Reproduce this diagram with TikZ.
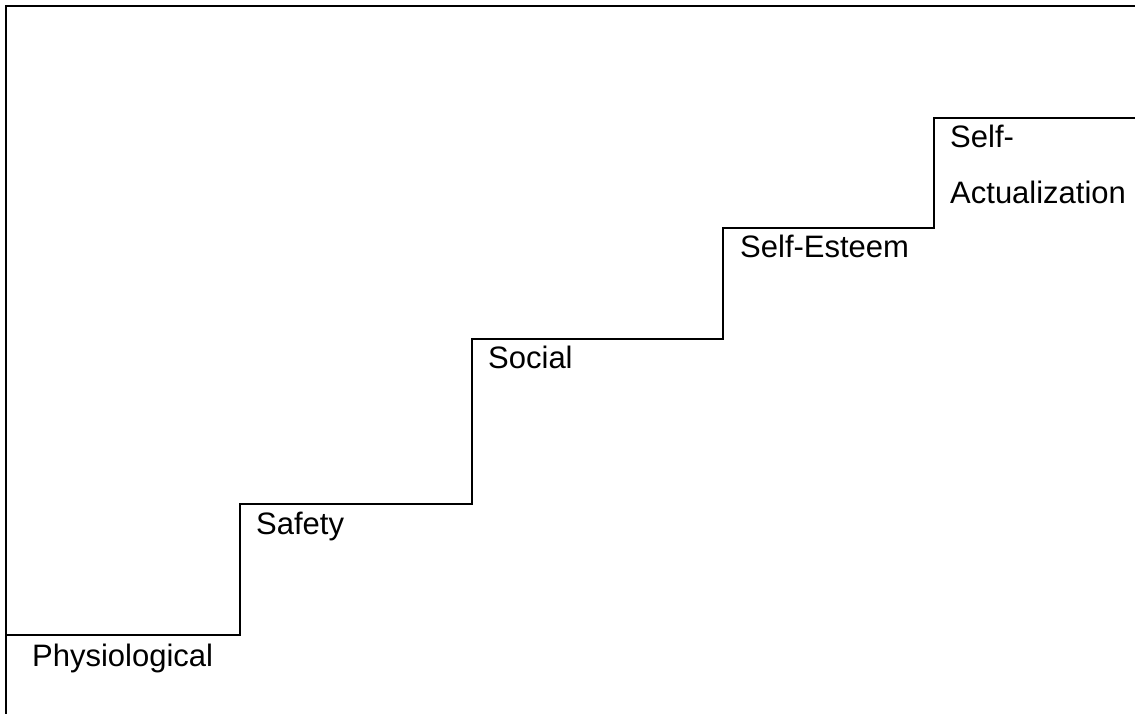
\documentclass[tikz,border=0pt]{standalone}
\usepackage{fontspec}
\setmainfont{Liberation Sans}
\begin{document}
\begin{tikzpicture}[x=1pt,y=-1pt,
  stair/.style={line width=2pt,line cap=rect},
  lab/.style={anchor=base west,inner sep=0pt,font=\fontsize{31}{56}\selectfont,align=left}]
\useasboundingbox (0,0) rectangle (1135,714);
% frame
\coordinate (ftr) at (1135,6);
\coordinate (ftl) at (6,6);
\coordinate (fbl) at (6,714);
\draw[stair] (ftr) -- (ftl) -- (fbl);
% corners of the stairs
\coordinate (s0) at (6,635);
\coordinate (c1) at (240,635);
\coordinate (d1) at (240,504);
\coordinate (c2) at (472,504);
\coordinate (d2) at (472,339);
\coordinate (c3) at (723,339);
\coordinate (d3) at (723,228);
\coordinate (c4) at (934,228);
\coordinate (d4) at (934,118);
\coordinate (c5) at (1135,118);
\draw[stair] (s0) -- (c1) -- (d1) -- (c2) -- (d2) -- (c3) -- (d3) -- (c4) -- (d4) -- (c5);
% labels
\node[lab] (phys) at (32,666) {Physiological};
\node[lab] (safe) at (256,534) {Safety};
\node[lab] (soc) at (488,368) {Social};
\node[lab] (est) at (740,258) {Self-Esteem};
\node[lab] (act) at (950,204) {Self-\\Actualization};
\end{tikzpicture}
\end{document}
